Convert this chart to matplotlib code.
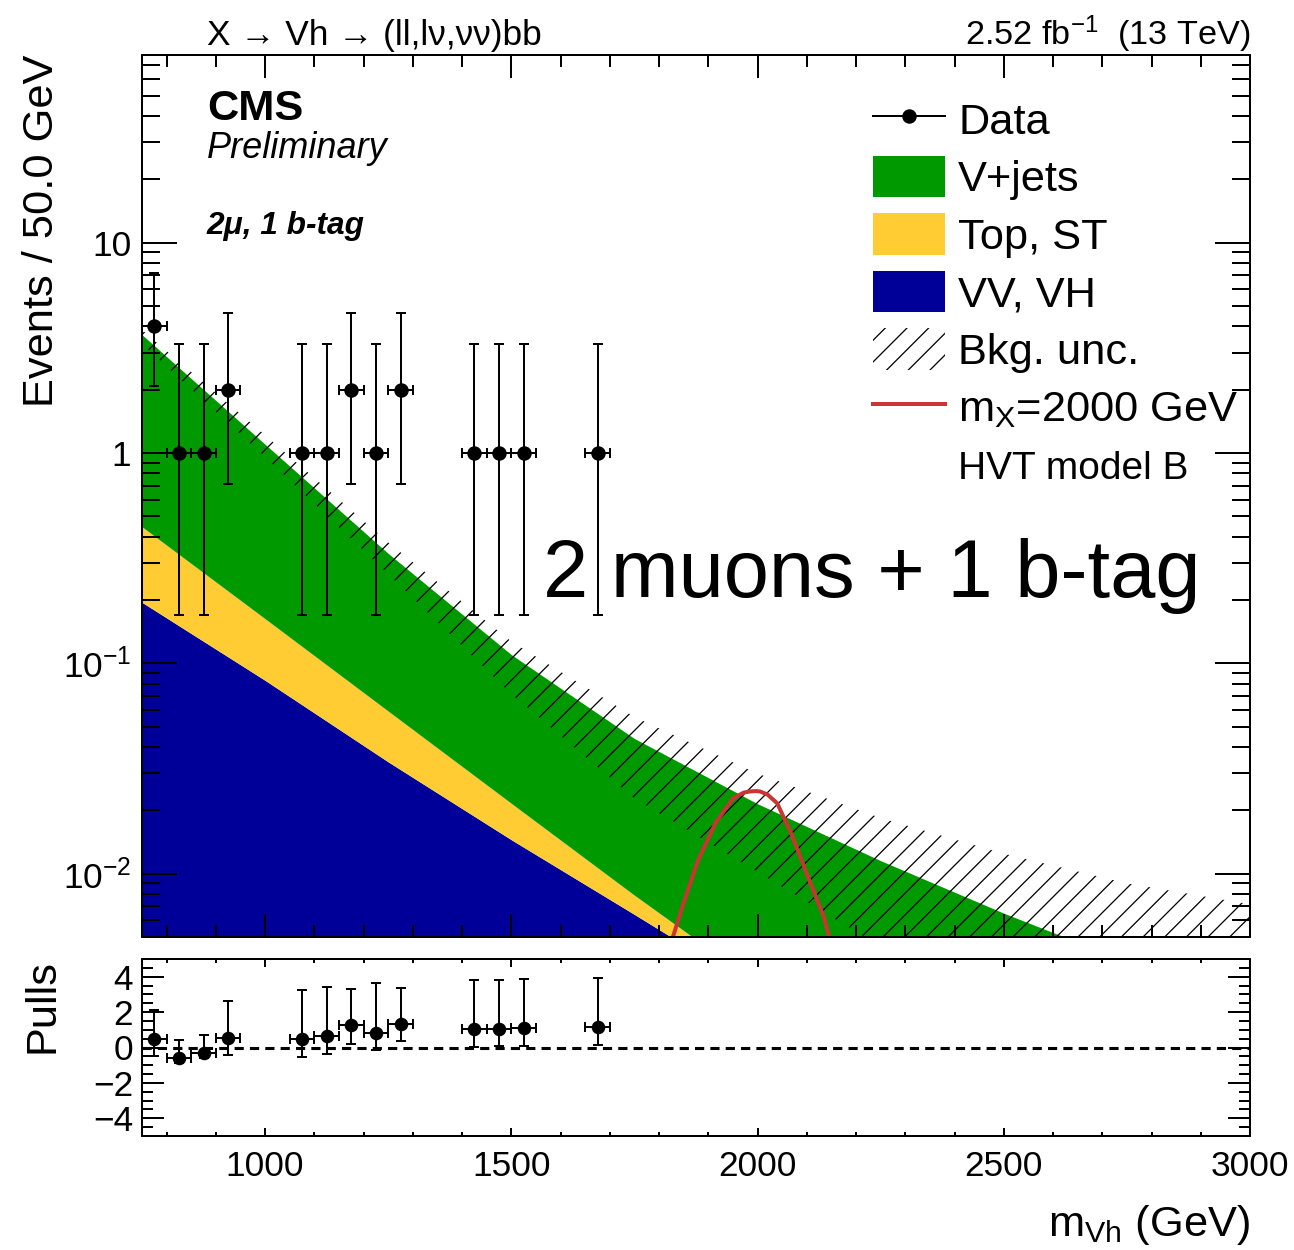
import numpy as np
import matplotlib
matplotlib.use("Agg")
import matplotlib.pyplot as plt
from matplotlib.lines import Line2D
from matplotlib.patches import Patch
from matplotlib.ticker import MultipleLocator, LogLocator, FuncFormatter, NullFormatter

# background yields per 50 GeV at these masses
mass = [750, 1000, 1250, 1500, 1750, 2000, 2250, 2500, 2750, 3000]
vv_vh = [0.195, 0.083, 0.034, 0.0145, 0.0064, 0.0028, 0.00122, 0.00052, 0.00022, 0.0001]
top_st = [0.251, 0.080, 0.0253, 0.0071, 0.0015, 0.0002, 0.00005, 0.00002, 0.00001, 0.000005]
v_jets = [3.204, 0.937, 0.2737, 0.0884, 0.036, 0.0185, 0.01026, 0.00595, 0.00359, 0.002255]
unc_up = [3.85, 1.216, 0.376, 0.127, 0.0556, 0.0299, 0.0184, 0.01245, 0.0090, 0.00716]
unc_dn = [3.3, 0.957, 0.266, 0.0715, 0.0228, 0.0102, 0.0045, 0.002, 0.001, 0.0005]

# signal m_X = 2000 GeV
sig_mass = [1822, 1850, 1880, 1915, 1950, 1972, 1985, 1995, 2005, 2020, 2040, 2070, 2105,
            2135, 2150]
sig_yield = [0.0045, 0.0073, 0.0117, 0.0175, 0.0228, 0.0243, 0.0246, 0.0247, 0.0246, 0.0238,
             0.0216, 0.0152, 0.0093, 0.0062, 0.0045]

# data
data_mass = [775, 825, 875, 925, 1075, 1125, 1175, 1225, 1275, 1425, 1475, 1525, 1675]
data_n = [4, 1, 1, 2, 1, 1, 2, 1, 2, 1, 1, 1, 1]
data_lo = [2.09, 0.17, 0.17, 0.71, 0.17, 0.17, 0.71, 0.17, 0.71, 0.17, 0.17, 0.17, 0.17]
data_hi = [7.16, 3.30, 3.30, 4.64, 3.30, 3.30, 4.64, 3.30, 4.64, 3.30, 3.30, 3.30, 3.30]

# pulls
pull = [0.47, -0.58, -0.30, 0.56, 0.49, 0.64, 1.25, 0.84, 1.35, 1.03, 1.07, 1.10, 1.14]
pull_lo = [-0.49, -0.86, -0.62, -0.45, -0.52, -0.37, 0.22, -0.15, 0.36, 0.04, 0.07, 0.09, 0.13]
pull_hi = [2.10, 0.45, 0.69, 2.60, 3.26, 3.41, 3.30, 3.63, 3.37, 3.80, 3.84, 3.86, 3.90]

green = "#009900"
yellow = "#ffcc33"
blue = "#000099"
red = "#cc3333"

plt.rcParams["font.family"] = ["Liberation Sans", "DejaVu Sans"]
plt.rcParams["mathtext.fontset"] = "custom"
plt.rcParams["mathtext.rm"] = "Liberation Sans"
plt.rcParams["mathtext.it"] = "Liberation Sans:italic"
plt.rcParams["mathtext.bf"] = "Liberation Sans:bold"
plt.rcParams["hatch.linewidth"] = 0.7
plt.rcParams["axes.linewidth"] = 1.1

DPI = 130
fig = plt.figure(figsize=(1294 / DPI, 1250 / DPI), dpi=DPI)
ax = fig.add_axes([142 / 1294, 1 - 937 / 1250, 1108 / 1294, 882 / 1250])
axp = fig.add_axes([142 / 1294, 1 - 1136 / 1250, 1108 / 1294, 177 / 1250])

# stacked backgrounds
s1 = np.array(vv_vh)
s2 = s1 + np.array(top_st)
s3 = s2 + np.array(v_jets)
ax.fill_between(mass, 1e-5, s1, color=blue, lw=0)
ax.fill_between(mass, s1, s2, color=yellow, lw=0)
ax.fill_between(mass, s2, s3, color=green, lw=0)
ax.fill_between(mass, unc_dn, unc_up, facecolor="none", edgecolor="k", hatch="//", lw=0)

ax.plot(sig_mass, sig_yield, color=red, lw=2.2)

n = np.array(data_n)
ax.errorbar(data_mass, data_n, xerr=25,
            yerr=[n - np.array(data_lo), np.array(data_hi) - n],
            fmt="o", color="k", ms=7, elinewidth=1.1, capsize=2.5, capthick=1.1)

ax.set_yscale("log")
ax.set_xlim(750, 3000)
ax.set_ylim(0.005, 78)
ax.xaxis.set_major_locator(MultipleLocator(500))
ax.xaxis.set_minor_locator(MultipleLocator(100))
ax.yaxis.set_major_locator(LogLocator(base=10))
ax.yaxis.set_minor_locator(LogLocator(base=10, subs=np.arange(2, 10)))
ax.yaxis.set_minor_formatter(NullFormatter())


def log_label(v, pos):
    if abs(v - 1) < 1e-9:
        return "1"
    if abs(v - 10) < 1e-9:
        return "10"
    return r"$10^{%d}$" % int(round(np.log10(v)))


ax.yaxis.set_major_formatter(FuncFormatter(log_label))
ax.tick_params(which="both", direction="in", top=True, right=True, width=1.1,
               labelbottom=False, labelsize=19.5, pad=6)
ax.tick_params(axis="x", which="major", length=12.7)
ax.tick_params(axis="x", which="minor", length=6.6)
ax.tick_params(axis="y", which="major", length=19.4)
ax.tick_params(axis="y", which="minor", length=10)
ax.set_ylabel("Events / 50.0 GeV", fontsize=24, loc="top")
ax.yaxis.set_label_coords(-0.072, 1.0)

handles = [
    Line2D([], [], color="k", marker="o", ms=7, lw=1.1),
    Patch(facecolor=green),
    Patch(facecolor=yellow),
    Patch(facecolor=blue),
    Patch(facecolor="white", edgecolor="k", hatch="//", lw=0),
    Line2D([], [], color=red, lw=2.2),
    Line2D([], [], color="none"),
]
labels = ["Data", "V+jets", "Top, ST", "VV, VH", "Bkg. unc.",
          r"m$_{\rm X}$=2000 GeV", "HVT model B"]
leg = ax.legend(handles, labels, loc="upper left", bbox_to_anchor=(0.66, 0.951),
                frameon=False, fontsize=24, handlelength=1.66, handleheight=1.1,
                handletextpad=0.3, labelspacing=0.3, borderpad=0, borderaxespad=0)
leg.get_texts()[-1].set_fontsize(21.5)

# text labels
fig.text(207 / 1294, 1 - 45 / 1250, "X → Vh → (ll,lν,νν)bb", fontsize=19.5, va="baseline")
fig.text(1250 / 1294, 1 - 45 / 1250, r"2.52 fb$^{-1}$  (13 TeV)", fontsize=19,
         va="baseline", ha="right")
fig.text(207 / 1294, 1 - 120 / 1250, "CMS", fontsize=24, fontweight="bold", va="baseline")
fig.text(207 / 1294, 1 - 158 / 1250, "Preliminary", fontsize=20, style="italic", va="baseline")
fig.text(207 / 1294, 1 - 234 / 1250, "2μ, 1 b-tag", fontsize=17.5, style="italic",
         fontweight="bold", va="baseline")
fig.text(543 / 1294, 1 - 597 / 1250, "2 muons + 1 b-tag", fontsize=45, va="baseline")

# pulls
axp.errorbar(data_mass, pull, xerr=25,
             yerr=[np.array(pull) - np.array(pull_lo), np.array(pull_hi) - np.array(pull)],
             fmt="o", color="k", ms=6.5, elinewidth=1.1, capsize=2.5, capthick=1.1)
axp.axhline(0, color="k", ls=(0, (3, 2)), lw=1.7)
axp.set_xlim(750, 3000)
axp.set_ylim(-5, 5)
axp.xaxis.set_major_locator(MultipleLocator(500))
axp.xaxis.set_minor_locator(MultipleLocator(100))
axp.yaxis.set_major_locator(MultipleLocator(2))
axp.yaxis.set_minor_locator(MultipleLocator(0.5))
axp.tick_params(which="both", direction="in", top=True, right=True, width=1.1,
                labelsize=19.5)
axp.tick_params(axis="x", which="major", length=4.4, pad=8)
axp.tick_params(axis="x", which="minor", length=2.2)
axp.tick_params(axis="y", which="major", length=12, pad=5)
axp.tick_params(axis="y", which="minor", length=6)
axp.set_ylabel("Pulls", fontsize=24, loc="top")
axp.yaxis.set_label_coords(-0.072, 1.0)
axp.set_xlabel(r"m$_{\rm Vh}$ (GeV)", fontsize=24, loc="right")
axp.xaxis.set_label_coords(1.0, -0.38)

fig.savefig("out.png", dpi=DPI)
